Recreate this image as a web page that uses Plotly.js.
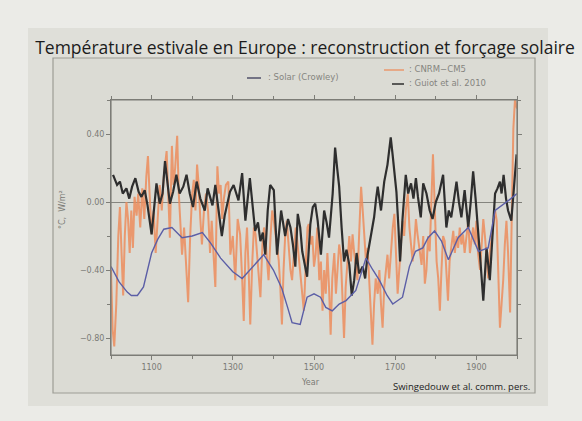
<!DOCTYPE html>
<html>
<head>
<meta charset="utf-8">
<script src="https://cdn.plot.ly/plotly-3.0.1.min.js"></script>
<style>
html,body{margin:0;padding:0;background:#ebebe7;}
#chart{width:582px;height:421px;}
</style>
</head>
<body>
<div id="chart"></div>
<script>
// ---- Data ----
var solarYears = [1000,1020,1040,1050,1065,1080,1100,1115,1130,1150,1175,1200,1225,1245,1270,1300,1323,1350,1376,1400,1421,1435,1446,1466,1483,1500,1516,1529,1545,1562,1579,1603,1628,1645,1661,1680,1694,1718,1735,1750,1768,1781,1797,1814,1831,1855,1880,1905,1929,1946,1970,1985,2000];
var solarValues = [-0.38,-0.47,-0.53,-0.55,-0.55,-0.50,-0.30,-0.22,-0.16,-0.15,-0.21,-0.20,-0.18,-0.24,-0.33,-0.41,-0.45,-0.38,-0.31,-0.40,-0.51,-0.62,-0.71,-0.72,-0.56,-0.54,-0.56,-0.62,-0.64,-0.60,-0.58,-0.52,-0.33,-0.40,-0.46,-0.55,-0.60,-0.56,-0.38,-0.29,-0.27,-0.21,-0.17,-0.23,-0.34,-0.21,-0.15,-0.29,-0.27,-0.05,-0.01,0.02,0.05];

var guiotYears = [1005,1015,1022,1029,1038,1045,1052,1060,1068,1075,1083,1090,1100,1106,1112,1120,1127,1133,1140,1145,1153,1161,1169,1178,1186,1194,1202,1211,1220,1231,1238,1244,1250,1257,1265,1273,1280,1285,1293,1302,1308,1314,1323,1331,1342,1349,1355,1362,1368,1374,1380,1386,1392,1401,1409,1419,1424,1429,1436,1442,1448,1454,1460,1466,1471,1477,1483,1491,1497,1503,1509,1517,1525,1531,1537,1546,1552,1557,1562,1568,1574,1580,1587,1593,1599,1605,1611,1620,1626,1632,1640,1648,1653,1657,1665,1673,1681,1689,1694,1698,1703,1708,1712,1718,1726,1732,1739,1745,1751,1756,1763,1769,1777,1785,1792,1800,1808,1818,1826,1832,1838,1845,1851,1857,1863,1871,1880,1886,1892,1898,1904,1910,1917,1925,1933,1940,1946,1952,1958,1962,1967,1973,1978,1986,1992,1999];
var guiotValues = [0.16,0.10,0.12,0.05,0.08,0.02,0.09,0.14,0.06,0.03,0.07,-0.02,-0.19,-0.05,0.11,-0.01,0.05,0.24,0.08,-0.01,0.06,0.16,0.05,0.09,0.16,0.05,-0.03,0.12,0.02,-0.05,0.08,0.03,-0.02,0.10,-0.05,-0.20,-0.08,-0.03,0.06,0.10,0.05,0.01,0.17,-0.11,0.14,-0.02,-0.17,-0.12,-0.23,-0.18,-0.31,-0.05,0.10,0.07,-0.31,-0.05,-0.12,-0.20,-0.10,-0.15,-0.25,-0.38,-0.07,-0.15,-0.29,-0.36,-0.44,-0.13,-0.03,-0.01,-0.11,-0.31,-0.05,-0.12,-0.21,0.05,0.32,0.20,0.09,-0.15,-0.35,-0.28,-0.37,-0.55,-0.46,-0.30,-0.42,-0.38,-0.45,-0.31,-0.20,-0.09,0.02,0.09,-0.05,0.12,0.22,0.38,0.27,0.18,0.06,-0.15,-0.35,-0.10,0.16,0.05,0.11,0.02,0.14,0.03,-0.09,0.11,0.05,-0.05,-0.10,0.00,0.05,0.16,-0.15,-0.05,-0.09,0.02,0.12,0.00,-0.09,0.07,-0.15,0.00,0.18,0.02,-0.15,-0.35,-0.58,-0.27,-0.46,-0.15,0.05,0.08,0.12,0.05,0.16,0.02,-0.05,-0.11,0.05,0.28];

var cnrmYears = [1000,1004,1008,1013,1018,1022,1026,1030,1034,1038,1042,1046,1050,1054,1058,1063,1067,1072,1077,1082,1087,1091,1095,1100,1105,1110,1115,1120,1125,1130,1137,1141,1145,1150,1154,1158,1163,1167,1171,1175,1180,1185,1190,1195,1200,1204,1208,1212,1216,1220,1224,1229,1234,1239,1244,1248,1253,1257,1262,1266,1270,1274,1278,1283,1289,1294,1300,1306,1312,1318,1323,1327,1331,1335,1339,1343,1348,1352,1356,1360,1364,1368,1373,1377,1380,1384,1388,1393,1397,1401,1405,1409,1413,1417,1421,1425,1429,1433,1438,1442,1446,1451,1455,1458,1463,1468,1471,1475,1480,1484,1487,1492,1496,1500,1504,1508,1513,1517,1521,1525,1529,1533,1537,1541,1545,1550,1554,1558,1562,1566,1570,1574,1578,1583,1587,1591,1595,1599,1603,1607,1611,1616,1620,1624,1628,1632,1636,1640,1644,1648,1652,1657,1661,1665,1669,1673,1677,1681,1685,1690,1694,1698,1702,1706,1710,1714,1718,1722,1726,1731,1735,1739,1743,1747,1751,1755,1760,1765,1769,1773,1777,1781,1785,1789,1793,1797,1802,1806,1810,1814,1818,1822,1826,1830,1834,1838,1843,1847,1851,1855,1859,1863,1867,1871,1875,1880,1884,1888,1892,1896,1900,1904,1909,1913,1917,1921,1925,1929,1933,1937,1941,1946,1950,1954,1958,1962,1966,1970,1974,1978,1983,1987,1991,1995,2000];
var cnrmValues = [-0.40,-0.75,-0.85,-0.60,-0.20,-0.03,-0.30,-0.55,-0.20,0.00,-0.10,-0.30,-0.05,-0.27,0.03,-0.08,0.05,-0.15,0.08,-0.10,0.15,0.27,0.05,-0.19,-0.05,-0.30,-0.10,0.10,-0.05,0.15,0.30,0.05,-0.21,0.33,0.10,0.20,0.39,0.05,-0.10,-0.31,-0.15,-0.40,-0.59,-0.20,0.05,0.13,-0.05,0.22,0.10,-0.10,-0.25,-0.05,0.05,-0.05,-0.30,-0.11,-0.35,-0.50,0.21,0.05,0.10,-0.10,0.02,0.10,0.12,-0.31,-0.20,-0.46,-0.10,-0.19,-0.45,-0.70,-0.30,-0.15,-0.40,-0.72,-0.35,-0.15,-0.19,-0.30,-0.40,-0.56,-0.25,-0.15,-0.20,-0.35,-0.46,-0.20,-0.05,-0.11,-0.20,-0.25,-0.34,-0.50,-0.72,-0.40,-0.20,-0.11,-0.30,-0.40,-0.46,-0.30,-0.15,-0.21,-0.35,-0.45,-0.55,-0.64,-0.35,-0.15,-0.13,-0.25,-0.20,-0.38,-0.31,-0.15,-0.46,-0.35,-0.64,-0.40,-0.54,-0.30,-0.50,-0.78,-0.45,-0.30,-0.54,-0.40,-0.25,-0.31,-0.55,-0.80,-0.50,-0.31,-0.20,-0.35,-0.19,-0.30,-0.40,-0.46,-0.20,0.09,-0.05,-0.21,-0.35,-0.27,-0.45,-0.65,-0.84,-0.60,-0.45,-0.54,-0.40,-0.60,-0.74,-0.50,-0.40,-0.31,-0.45,-0.25,-0.15,-0.07,-0.30,-0.54,-0.40,-0.25,-0.11,-0.20,-0.05,0.05,-0.15,-0.25,-0.35,-0.25,-0.10,-0.19,-0.30,-0.37,-0.20,-0.48,-0.40,-0.20,-0.29,0.05,0.28,0.00,-0.35,-0.45,-0.64,-0.40,-0.20,-0.23,-0.40,-0.58,-0.35,-0.25,-0.17,-0.30,-0.20,-0.27,-0.15,-0.25,-0.19,-0.30,-0.20,-0.11,-0.30,-0.21,-0.15,-0.25,-0.11,-0.30,-0.40,-0.25,-0.10,-0.20,-0.35,-0.45,-0.30,-0.23,-0.15,-0.05,-0.11,-0.40,-0.74,-0.60,-0.46,-0.25,-0.11,-0.30,-0.65,-0.10,0.43,0.60,0.55];

var xTickVals = [1100,1300,1500,1700,1900];
var yTickVals = [0.4,0.0,-0.4,-0.8];
var legendLabels = [': Solar (Crowley)', ': CNRM\u2212CM5', ': Guiot et al. 2010'];

// ---- Geometry helpers (pixel -> paper) ----
var W = 582, H = 421;
var L = 111, R = 517, T = 100, B = 355;
function px(x){ return (x - L) / (R - L); }
function py(y){ return (B - y) / (B - T); }

var colOrange = 'rgba(236,140,92,0.85)';
var colBlack = '#2e2e2e';
var colBlue = '#5b5ea6';
var axisCol = '#7d7d77';
var tickFont = {family: 'DejaVu Sans, sans-serif', size: 8, color: '#7a7a75'};

var traces = [
  {x: cnrmYears, y: cnrmValues, type: 'scatter', mode: 'lines', line: {color: colOrange, width: 2}, hoverinfo: 'skip', showlegend: false},
  {x: guiotYears, y: guiotValues, type: 'scatter', mode: 'lines', line: {color: colBlack, width: 2.2}, hoverinfo: 'skip', showlegend: false},
  {x: solarYears, y: solarValues, type: 'scatter', mode: 'lines', line: {color: colBlue, width: 1.4}, hoverinfo: 'skip', showlegend: false}
];

var shapes = [
  // slide panel
  {type: 'rect', xref: 'paper', yref: 'paper', x0: px(28), x1: px(548), y0: py(406), y1: py(28), fillcolor: '#dfdfd9', line: {width: 0}, layer: 'below'},
  // figure frame
  {type: 'rect', xref: 'paper', yref: 'paper', x0: px(53), x1: px(535), y0: py(393), y1: py(58), fillcolor: '#dbdbd4', line: {color: '#9d9d95', width: 1.2}, layer: 'below'},
  // plot box outline
  {type: 'rect', xref: 'paper', yref: 'paper', x0: 0, x1: 1, y0: 0, y1: 1, line: {color: axisCol, width: 1.2}, layer: 'above'},
  // legend line samples
  {type: 'line', xref: 'paper', yref: 'paper', x0: px(247), x1: px(261), y0: py(78), y1: py(78), line: {color: '#50506a', width: 1.5}},
  {type: 'line', xref: 'paper', yref: 'paper', x0: px(384), x1: px(404), y0: py(70), y1: py(70), line: {color: colOrange, width: 1.5}},
  {type: 'line', xref: 'paper', yref: 'paper', x0: px(392), x1: px(404), y0: py(84), y1: py(84), line: {color: colBlack, width: 1.5}}
];

var legFont = {family: 'DejaVu Sans, sans-serif', size: 8.5, color: '#85857f'};
var annotations = [
  {xref: 'paper', yref: 'paper', x: px(266), y: py(77), xanchor: 'left', yanchor: 'middle', text: legendLabels[0], showarrow: false, font: legFont},
  {xref: 'paper', yref: 'paper', x: px(407), y: py(69), xanchor: 'left', yanchor: 'middle', text: legendLabels[1], showarrow: false, font: legFont},
  {xref: 'paper', yref: 'paper', x: px(407), y: py(83), xanchor: 'left', yanchor: 'middle', text: legendLabels[2], showarrow: false, font: legFont},
  {xref: 'paper', yref: 'paper', x: px(62), y: py(210), xanchor: 'center', yanchor: 'middle', text: '\u00B0C,  W/m\u00B2', textangle: -90, showarrow: false, font: {family: 'DejaVu Sans, sans-serif', size: 8, color: '#7a7a75'}},
  {xref: 'paper', yref: 'paper', x: px(310), y: py(382), xanchor: 'center', yanchor: 'middle', text: 'Year', showarrow: false, font: {family: 'DejaVu Sans, sans-serif', size: 8, color: '#7a7a75'}},
  {xref: 'paper', yref: 'paper', x: px(532), y: py(386), xanchor: 'right', yanchor: 'middle', text: 'Swingedouw et al. comm. pers.', showarrow: false, font: {family: 'Open Sans, sans-serif', size: 9.5, color: '#222222'}}
];

var layout = {
  width: W, height: H,
  margin: {l: L, r: W - R, t: T, b: H - B, pad: 0},
  paper_bgcolor: '#ebebe7',
  plot_bgcolor: '#dbdbd4',
  title: {text: 'Température estivale en Europe : reconstruction et forçage solaire', xref: 'paper', x: px(305), xanchor: 'center', yref: 'container', y: 1 - 48 / H, yanchor: 'middle', font: {family: 'Open Sans, sans-serif', size: 17.5, color: '#1c1c1c'}},
  xaxis: {range: [1000, 2000], tickvals: xTickVals, ticktext: xTickVals.map(String), showgrid: false, zeroline: false, showline: true, mirror: 'ticks', linecolor: axisCol, linewidth: 1, ticks: 'outside', ticklen: 4, tickcolor: axisCol, tickfont: tickFont,
    minor: {dtick: 100, tick0: 1000, ticks: 'outside', ticklen: 3, tickcolor: axisCol, showgrid: false}},
  yaxis: {range: [-0.9, 0.6], tickvals: yTickVals, tickformat: '.2f', showgrid: false, zeroline: true, zerolinecolor: '#85857f', zerolinewidth: 1, showline: true, mirror: 'ticks', linecolor: axisCol, linewidth: 1, ticks: 'outside', ticklen: 4, tickcolor: axisCol, tickfont: tickFont,
    minor: {dtick: 0.2, tick0: 0, ticks: 'outside', ticklen: 3, tickcolor: axisCol, showgrid: false}},
  shapes: shapes,
  annotations: annotations,
  showlegend: false
};

Plotly.newPlot('chart', traces, layout, {staticPlot: true, displayModeBar: false});
</script>
</body>
</html>
